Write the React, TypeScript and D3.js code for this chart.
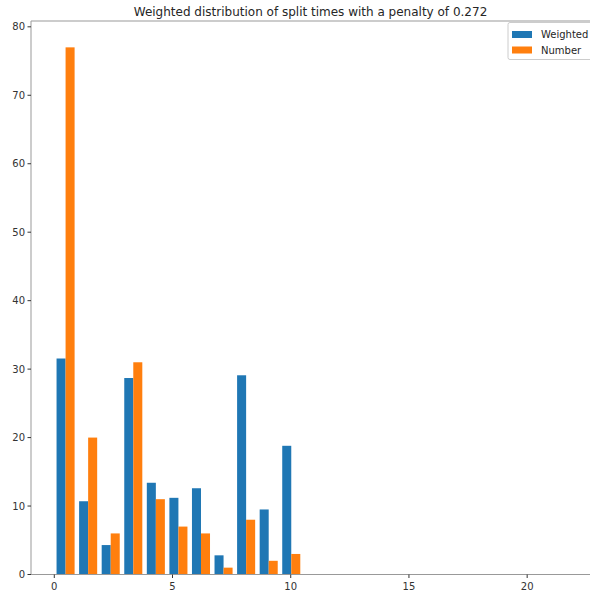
import React from "react";
import * as d3 from "d3";

const binIndex = [0, 1, 2, 3, 4, 5, 6, 7, 8, 9, 10];
const weighted = [31.55, 10.7, 4.3, 28.7, 13.4, 11.2, 12.6, 2.8, 29.1, 9.5, 18.8];
const number = [77, 20, 6, 31, 11, 7, 6, 1, 8, 2, 3];
const xTicks = [0, 5, 10, 15, 20];
const yTicks = [0, 10, 20, 30, 40, 50, 60, 70, 80];
const seriesNames = ["Weighted", "Number"];
const colors = ["#1f77b4", "#ff7f0e"];
const dataMax = 10.5;

const W = 590;
const H = 595;
const left = 31;
const top = 21;
const bottom = 574.5;

export default function App() {
  const binW = dataMax / binIndex.length;
  const x = d3.scaleLinear().domain([-0.985, 22.7]).range([left, 591]);
  const y = d3.scaleLinear().domain([0, 80.85]).range([bottom, top]);
  const barW = (0.8 * binW) / 2;
  const font = "DejaVu Sans, sans-serif";
  const tickColor = "#333";
  const spine = "#999";
  const series = [weighted, number];
  return (
    <svg width={W} height={H} style={{ position: "absolute", left: 0, top: 0 }}>
      <rect x={0} y={0} width={W} height={H} fill="#fff" />
      <text x={(left + W) / 2} y={16} textAnchor="middle" fontFamily={font} fontSize={12} fill="#262626">
        Weighted distribution of split times with a penalty of 0.272
      </text>
      {series.map((vals, s) =>
        vals.map((v, i) => {
          const x0 = binIndex[i] * binW + 0.1 * binW + s * barW;
          return (
            <rect
              key={`${s}-${i}`}
              x={x(x0)}
              y={y(v)}
              width={x(x0 + barW) - x(x0)}
              height={y(0) - y(v)}
              fill={colors[s]}
            />
          );
        })
      )}
      <line x1={left} x2={left} y1={top} y2={bottom} stroke={spine} strokeWidth={1} />
      <line x1={left} x2={W} y1={top} y2={top} stroke={spine} strokeWidth={1} />
      <line x1={left} x2={W} y1={bottom} y2={bottom} stroke={spine} strokeWidth={1} />
      {yTicks.map((t) => (
        <g key={`y${t}`}>
          <line x1={left - 3.5} x2={left} y1={y(t)} y2={y(t)} stroke={tickColor} />
          <text x={left - 6} y={y(t)} dy="0.35em" textAnchor="end" fontFamily={font} fontSize={10} fill={tickColor}>
            {t}
          </text>
        </g>
      ))}
      {xTicks.map((t) => (
        <g key={`x${t}`}>
          <line x1={x(t)} x2={x(t)} y1={bottom} y2={bottom + 3.5} stroke={tickColor} />
          <text x={x(t)} y={bottom + 15} textAnchor="middle" fontFamily={font} fontSize={10} fill={tickColor}>
            {t}
          </text>
        </g>
      ))}
      <g>
        <rect x={508} y={22.5} width={100} height={37} rx={2} fill="#fff" fillOpacity={0.8} stroke="#ccc" />
        {seriesNames.map((n, i) => (
          <g key={n}>
            <rect x={512} y={31 + i * 15.5} width={20} height={7} fill={colors[i]} />
            <text x={541} y={34.5 + i * 15.5} dy="0.35em" fontFamily={font} fontSize={10} fill="#262626">
              {n}
            </text>
          </g>
        ))}
      </g>
    </svg>
  );
}
